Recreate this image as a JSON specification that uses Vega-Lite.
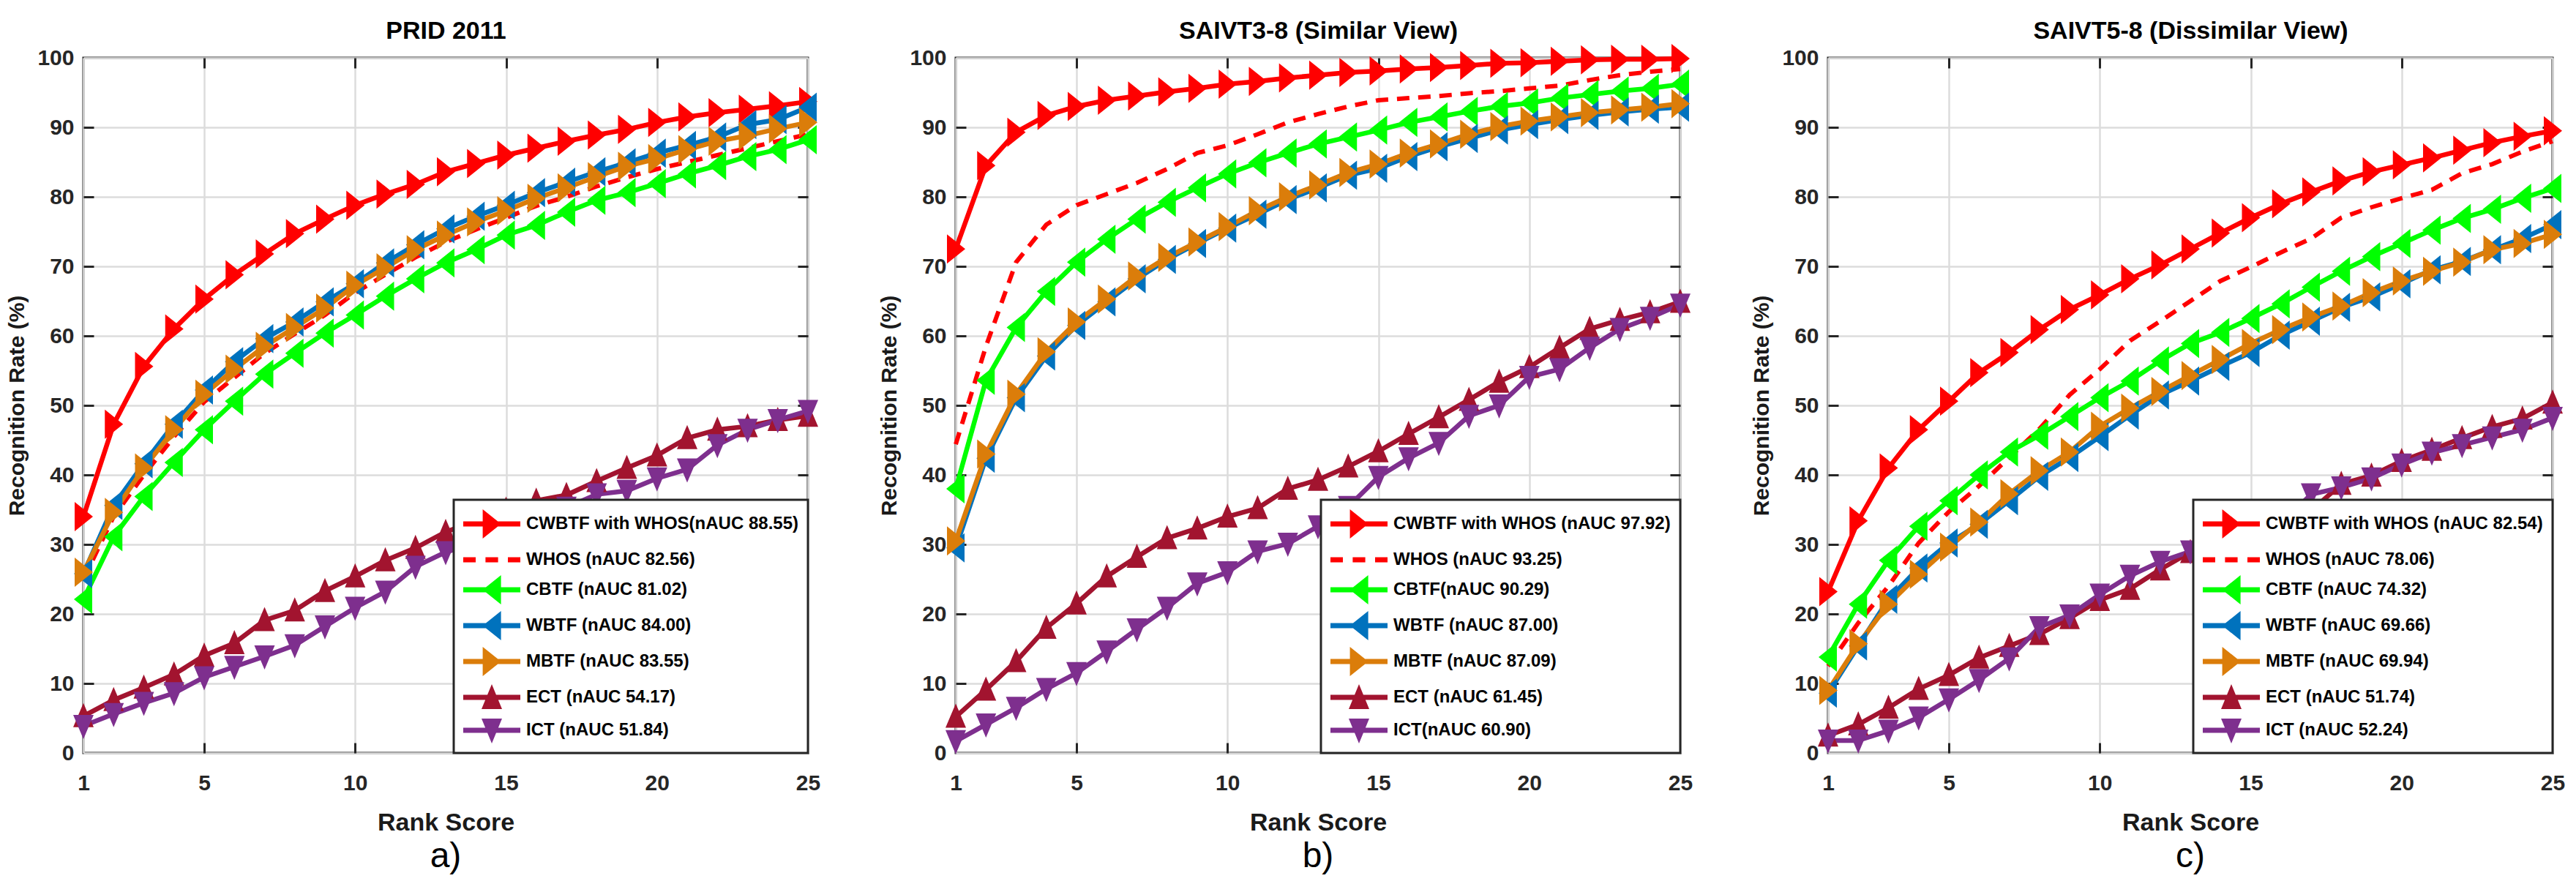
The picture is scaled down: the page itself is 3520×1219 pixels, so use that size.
{
  "$schema": "https://vega.github.io/schema/vega-lite/v6.json",
  "background": "white",
  "padding": {"left": 7, "top": 24, "right": 5, "bottom": 5},
  "spacing": 202,
  "bounds": "flush",
  "datasets": {
    "prid": [
      {"method":"CWBTF","rank":1,"rate":34.0},{"method":"CWBTF","rank":2,"rate":47.3},{"method":"CWBTF","rank":3,"rate":55.6},{"method":"CWBTF","rank":4,"rate":61.0},{"method":"CWBTF","rank":5,"rate":65.3},
      {"method":"CWBTF","rank":6,"rate":68.8},{"method":"CWBTF","rank":7,"rate":71.8},{"method":"CWBTF","rank":8,"rate":74.7},{"method":"CWBTF","rank":9,"rate":76.8},{"method":"CWBTF","rank":10,"rate":78.8},
      {"method":"CWBTF","rank":11,"rate":80.4},{"method":"CWBTF","rank":12,"rate":81.8},{"method":"CWBTF","rank":13,"rate":83.6},{"method":"CWBTF","rank":14,"rate":84.8},{"method":"CWBTF","rank":15,"rate":86.0},
      {"method":"CWBTF","rank":16,"rate":87.0},{"method":"CWBTF","rank":17,"rate":88.0},{"method":"CWBTF","rank":18,"rate":88.9},{"method":"CWBTF","rank":19,"rate":89.7},{"method":"CWBTF","rank":20,"rate":90.7},
      {"method":"CWBTF","rank":21,"rate":91.5},{"method":"CWBTF","rank":22,"rate":92.1},{"method":"CWBTF","rank":23,"rate":92.6},{"method":"CWBTF","rank":24,"rate":93.1},{"method":"CWBTF","rank":25,"rate":93.7},
      {"method":"WHOS","rank":1,"rate":25.0},{"method":"WHOS","rank":2,"rate":34.0},{"method":"WHOS","rank":3,"rate":40.0},{"method":"WHOS","rank":4,"rate":45.5},{"method":"WHOS","rank":5,"rate":50.5},
      {"method":"WHOS","rank":6,"rate":54.0},{"method":"WHOS","rank":7,"rate":57.5},{"method":"WHOS","rank":8,"rate":60.3},{"method":"WHOS","rank":9,"rate":63.0},{"method":"WHOS","rank":10,"rate":66.2},
      {"method":"WHOS","rank":11,"rate":68.8},{"method":"WHOS","rank":12,"rate":71.3},{"method":"WHOS","rank":13,"rate":73.5},{"method":"WHOS","rank":14,"rate":75.3},{"method":"WHOS","rank":15,"rate":77.0},
      {"method":"WHOS","rank":16,"rate":78.7},{"method":"WHOS","rank":17,"rate":80.0},{"method":"WHOS","rank":18,"rate":81.5},{"method":"WHOS","rank":19,"rate":82.8},{"method":"WHOS","rank":20,"rate":84.0},
      {"method":"WHOS","rank":21,"rate":85.0},{"method":"WHOS","rank":22,"rate":86.0},{"method":"WHOS","rank":23,"rate":87.0},{"method":"WHOS","rank":24,"rate":88.0},{"method":"WHOS","rank":25,"rate":89.0},
      {"method":"CBTF","rank":1,"rate":22.1},{"method":"CBTF","rank":2,"rate":31.1},{"method":"CBTF","rank":3,"rate":36.9},{"method":"CBTF","rank":4,"rate":41.8},{"method":"CBTF","rank":5,"rate":46.5},
      {"method":"CBTF","rank":6,"rate":50.6},{"method":"CBTF","rank":7,"rate":54.5},{"method":"CBTF","rank":8,"rate":57.5},{"method":"CBTF","rank":9,"rate":60.4},{"method":"CBTF","rank":10,"rate":63.0},
      {"method":"CBTF","rank":11,"rate":65.7},{"method":"CBTF","rank":12,"rate":68.2},{"method":"CBTF","rank":13,"rate":70.5},{"method":"CBTF","rank":14,"rate":72.4},{"method":"CBTF","rank":15,"rate":74.5},
      {"method":"CBTF","rank":16,"rate":75.9},{"method":"CBTF","rank":17,"rate":77.8},{"method":"CBTF","rank":18,"rate":79.5},{"method":"CBTF","rank":19,"rate":80.6},{"method":"CBTF","rank":20,"rate":81.9},
      {"method":"CBTF","rank":21,"rate":83.3},{"method":"CBTF","rank":22,"rate":84.5},{"method":"CBTF","rank":23,"rate":85.8},{"method":"CBTF","rank":24,"rate":86.8},{"method":"CBTF","rank":25,"rate":88.2},
      {"method":"WBTF","rank":1,"rate":25.8},{"method":"WBTF","rank":2,"rate":35.6},{"method":"WBTF","rank":3,"rate":41.6},{"method":"WBTF","rank":4,"rate":47.3},{"method":"WBTF","rank":5,"rate":52.2},
      {"method":"WBTF","rank":6,"rate":56.3},{"method":"WBTF","rank":7,"rate":59.6},{"method":"WBTF","rank":8,"rate":62.0},{"method":"WBTF","rank":9,"rate":64.9},{"method":"WBTF","rank":10,"rate":67.5},
      {"method":"WBTF","rank":11,"rate":70.5},{"method":"WBTF","rank":12,"rate":73.1},{"method":"WBTF","rank":13,"rate":75.4},{"method":"WBTF","rank":14,"rate":77.2},{"method":"WBTF","rank":15,"rate":78.8},
      {"method":"WBTF","rank":16,"rate":80.6},{"method":"WBTF","rank":17,"rate":82.1},{"method":"WBTF","rank":18,"rate":83.6},{"method":"WBTF","rank":19,"rate":84.9},{"method":"WBTF","rank":20,"rate":86.3},
      {"method":"WBTF","rank":21,"rate":87.4},{"method":"WBTF","rank":22,"rate":88.6},{"method":"WBTF","rank":23,"rate":90.4},{"method":"WBTF","rank":24,"rate":91.1},{"method":"WBTF","rank":25,"rate":92.9},
      {"method":"MBTF","rank":1,"rate":26.0},{"method":"MBTF","rank":2,"rate":34.6},{"method":"MBTF","rank":3,"rate":41.0},{"method":"MBTF","rank":4,"rate":46.5},{"method":"MBTF","rank":5,"rate":51.6},
      {"method":"MBTF","rank":6,"rate":55.2},{"method":"MBTF","rank":7,"rate":58.5},{"method":"MBTF","rank":8,"rate":61.2},{"method":"MBTF","rank":9,"rate":64.0},{"method":"MBTF","rank":10,"rate":67.3},
      {"method":"MBTF","rank":11,"rate":69.8},{"method":"MBTF","rank":12,"rate":72.4},{"method":"MBTF","rank":13,"rate":74.5},{"method":"MBTF","rank":14,"rate":76.4},{"method":"MBTF","rank":15,"rate":78.0},
      {"method":"MBTF","rank":16,"rate":79.8},{"method":"MBTF","rank":17,"rate":81.3},{"method":"MBTF","rank":18,"rate":82.9},{"method":"MBTF","rank":19,"rate":84.4},{"method":"MBTF","rank":20,"rate":85.5},
      {"method":"MBTF","rank":21,"rate":86.8},{"method":"MBTF","rank":22,"rate":88.0},{"method":"MBTF","rank":23,"rate":88.8},{"method":"MBTF","rank":24,"rate":89.8},{"method":"MBTF","rank":25,"rate":90.7},
      {"method":"ECT","rank":1,"rate":5.3},{"method":"ECT","rank":2,"rate":7.6},{"method":"ECT","rank":3,"rate":9.4},{"method":"ECT","rank":4,"rate":11.3},{"method":"ECT","rank":5,"rate":14.0},
      {"method":"ECT","rank":6,"rate":15.8},{"method":"ECT","rank":7,"rate":19.1},{"method":"ECT","rank":8,"rate":20.5},{"method":"ECT","rank":9,"rate":23.3},{"method":"ECT","rank":10,"rate":25.4},
      {"method":"ECT","rank":11,"rate":27.7},{"method":"ECT","rank":12,"rate":29.5},{"method":"ECT","rank":13,"rate":31.8},{"method":"ECT","rank":14,"rate":33.4},{"method":"ECT","rank":15,"rate":35.0},
      {"method":"ECT","rank":16,"rate":36.3},{"method":"ECT","rank":17,"rate":37.1},{"method":"ECT","rank":18,"rate":39.1},{"method":"ECT","rank":19,"rate":41.0},{"method":"ECT","rank":20,"rate":42.8},
      {"method":"ECT","rank":21,"rate":45.3},{"method":"ECT","rank":22,"rate":46.5},{"method":"ECT","rank":23,"rate":47.0},{"method":"ECT","rank":24,"rate":47.9},{"method":"ECT","rank":25,"rate":48.5},
      {"method":"ICT","rank":1,"rate":3.9},{"method":"ICT","rank":2,"rate":5.6},{"method":"ICT","rank":3,"rate":7.2},{"method":"ICT","rank":4,"rate":8.6},{"method":"ICT","rank":5,"rate":10.9},
      {"method":"ICT","rank":6,"rate":12.4},{"method":"ICT","rank":7,"rate":13.9},{"method":"ICT","rank":8,"rate":15.5},{"method":"ICT","rank":9,"rate":18.2},{"method":"ICT","rank":10,"rate":20.9},
      {"method":"ICT","rank":11,"rate":23.2},{"method":"ICT","rank":12,"rate":26.8},{"method":"ICT","rank":13,"rate":28.9},{"method":"ICT","rank":14,"rate":30.1},{"method":"ICT","rank":15,"rate":31.8},
      {"method":"ICT","rank":16,"rate":33.8},{"method":"ICT","rank":17,"rate":35.3},{"method":"ICT","rank":18,"rate":37.2},{"method":"ICT","rank":19,"rate":37.7},{"method":"ICT","rank":20,"rate":39.5},
      {"method":"ICT","rank":21,"rate":40.8},{"method":"ICT","rank":22,"rate":44.3},{"method":"ICT","rank":23,"rate":46.5},{"method":"ICT","rank":24,"rate":47.9},{"method":"ICT","rank":25,"rate":49.2}
    ],
    "similar": [
      {"method":"CWBTF","rank":1,"rate":72.5},{"method":"CWBTF","rank":2,"rate":84.5},{"method":"CWBTF","rank":3,"rate":89.3},{"method":"CWBTF","rank":4,"rate":91.7},{"method":"CWBTF","rank":5,"rate":93.0},
      {"method":"CWBTF","rank":6,"rate":93.9},{"method":"CWBTF","rank":7,"rate":94.5},{"method":"CWBTF","rank":8,"rate":95.1},{"method":"CWBTF","rank":9,"rate":95.6},{"method":"CWBTF","rank":10,"rate":96.2},
      {"method":"CWBTF","rank":11,"rate":96.6},{"method":"CWBTF","rank":12,"rate":97.1},{"method":"CWBTF","rank":13,"rate":97.5},{"method":"CWBTF","rank":14,"rate":97.9},{"method":"CWBTF","rank":15,"rate":98.1},
      {"method":"CWBTF","rank":16,"rate":98.4},{"method":"CWBTF","rank":17,"rate":98.6},{"method":"CWBTF","rank":18,"rate":98.9},{"method":"CWBTF","rank":19,"rate":99.2},{"method":"CWBTF","rank":20,"rate":99.3},
      {"method":"CWBTF","rank":21,"rate":99.5},{"method":"CWBTF","rank":22,"rate":99.7},{"method":"CWBTF","rank":23,"rate":99.8},{"method":"CWBTF","rank":24,"rate":99.8},{"method":"CWBTF","rank":25,"rate":99.9},
      {"method":"WHOS","rank":1,"rate":44.4},{"method":"WHOS","rank":2,"rate":58.5},{"method":"WHOS","rank":3,"rate":70.6},{"method":"WHOS","rank":4,"rate":76.0},{"method":"WHOS","rank":5,"rate":78.8},
      {"method":"WHOS","rank":6,"rate":80.4},{"method":"WHOS","rank":7,"rate":82.0},{"method":"WHOS","rank":8,"rate":84.0},{"method":"WHOS","rank":9,"rate":86.3},{"method":"WHOS","rank":10,"rate":87.4},
      {"method":"WHOS","rank":11,"rate":89.0},{"method":"WHOS","rank":12,"rate":90.7},{"method":"WHOS","rank":13,"rate":91.9},{"method":"WHOS","rank":14,"rate":93.0},{"method":"WHOS","rank":15,"rate":93.9},
      {"method":"WHOS","rank":16,"rate":94.2},{"method":"WHOS","rank":17,"rate":94.5},{"method":"WHOS","rank":18,"rate":94.9},{"method":"WHOS","rank":19,"rate":95.2},{"method":"WHOS","rank":20,"rate":95.6},
      {"method":"WHOS","rank":21,"rate":96.0},{"method":"WHOS","rank":22,"rate":96.8},{"method":"WHOS","rank":23,"rate":97.5},{"method":"WHOS","rank":24,"rate":98.0},{"method":"WHOS","rank":25,"rate":98.4},
      {"method":"CBTF","rank":1,"rate":38.0},{"method":"CBTF","rank":2,"rate":53.6},{"method":"CBTF","rank":3,"rate":61.2},{"method":"CBTF","rank":4,"rate":66.4},{"method":"CBTF","rank":5,"rate":70.6},
      {"method":"CBTF","rank":6,"rate":73.9},{"method":"CBTF","rank":7,"rate":76.8},{"method":"CBTF","rank":8,"rate":79.2},{"method":"CBTF","rank":9,"rate":81.3},{"method":"CBTF","rank":10,"rate":83.3},
      {"method":"CBTF","rank":11,"rate":84.9},{"method":"CBTF","rank":12,"rate":86.3},{"method":"CBTF","rank":13,"rate":87.6},{"method":"CBTF","rank":14,"rate":88.6},{"method":"CBTF","rank":15,"rate":89.6},
      {"method":"CBTF","rank":16,"rate":90.7},{"method":"CBTF","rank":17,"rate":91.5},{"method":"CBTF","rank":18,"rate":92.3},{"method":"CBTF","rank":19,"rate":93.0},{"method":"CBTF","rank":20,"rate":93.5},
      {"method":"CBTF","rank":21,"rate":94.2},{"method":"CBTF","rank":22,"rate":94.7},{"method":"CBTF","rank":23,"rate":95.2},{"method":"CBTF","rank":24,"rate":95.6},{"method":"CBTF","rank":25,"rate":96.2},
      {"method":"WBTF","rank":1,"rate":29.5},{"method":"WBTF","rank":2,"rate":42.4},{"method":"WBTF","rank":3,"rate":51.1},{"method":"WBTF","rank":4,"rate":57.1},{"method":"WBTF","rank":5,"rate":61.5},
      {"method":"WBTF","rank":6,"rate":64.9},{"method":"WBTF","rank":7,"rate":68.2},{"method":"WBTF","rank":8,"rate":71.0},{"method":"WBTF","rank":9,"rate":73.3},{"method":"WBTF","rank":10,"rate":75.5},
      {"method":"WBTF","rank":11,"rate":77.5},{"method":"WBTF","rank":12,"rate":79.6},{"method":"WBTF","rank":13,"rate":81.3},{"method":"WBTF","rank":14,"rate":83.1},{"method":"WBTF","rank":15,"rate":84.1},
      {"method":"WBTF","rank":16,"rate":85.8},{"method":"WBTF","rank":17,"rate":87.2},{"method":"WBTF","rank":18,"rate":88.4},{"method":"WBTF","rank":19,"rate":89.6},{"method":"WBTF","rank":20,"rate":90.4},
      {"method":"WBTF","rank":21,"rate":91.1},{"method":"WBTF","rank":22,"rate":91.7},{"method":"WBTF","rank":23,"rate":92.2},{"method":"WBTF","rank":24,"rate":92.6},{"method":"WBTF","rank":25,"rate":92.9},
      {"method":"MBTF","rank":1,"rate":30.5},{"method":"MBTF","rank":2,"rate":43.0},{"method":"MBTF","rank":3,"rate":51.6},{"method":"MBTF","rank":4,"rate":57.7},{"method":"MBTF","rank":5,"rate":62.0},
      {"method":"MBTF","rank":6,"rate":65.3},{"method":"MBTF","rank":7,"rate":68.6},{"method":"MBTF","rank":8,"rate":71.3},{"method":"MBTF","rank":9,"rate":73.5},{"method":"MBTF","rank":10,"rate":75.7},
      {"method":"MBTF","rank":11,"rate":78.0},{"method":"MBTF","rank":12,"rate":80.0},{"method":"MBTF","rank":13,"rate":81.7},{"method":"MBTF","rank":14,"rate":83.5},{"method":"MBTF","rank":15,"rate":84.7},
      {"method":"MBTF","rank":16,"rate":86.3},{"method":"MBTF","rank":17,"rate":87.6},{"method":"MBTF","rank":18,"rate":89.0},{"method":"MBTF","rank":19,"rate":90.1},{"method":"MBTF","rank":20,"rate":90.9},
      {"method":"MBTF","rank":21,"rate":91.5},{"method":"MBTF","rank":22,"rate":92.1},{"method":"MBTF","rank":23,"rate":92.5},{"method":"MBTF","rank":24,"rate":92.9},{"method":"MBTF","rank":25,"rate":93.4},
      {"method":"ECT","rank":1,"rate":5.2},{"method":"ECT","rank":2,"rate":9.1},{"method":"ECT","rank":3,"rate":13.2},{"method":"ECT","rank":4,"rate":18.0},{"method":"ECT","rank":5,"rate":21.5},
      {"method":"ECT","rank":6,"rate":25.4},{"method":"ECT","rank":7,"rate":28.2},{"method":"ECT","rank":8,"rate":30.9},{"method":"ECT","rank":9,"rate":32.3},{"method":"ECT","rank":10,"rate":34.0},
      {"method":"ECT","rank":11,"rate":35.2},{"method":"ECT","rank":12,"rate":38.0},{"method":"ECT","rank":13,"rate":39.3},{"method":"ECT","rank":14,"rate":41.2},{"method":"ECT","rank":15,"rate":43.4},
      {"method":"ECT","rank":16,"rate":45.9},{"method":"ECT","rank":17,"rate":48.3},{"method":"ECT","rank":18,"rate":50.8},{"method":"ECT","rank":19,"rate":53.4},{"method":"ECT","rank":20,"rate":55.5},
      {"method":"ECT","rank":21,"rate":58.3},{"method":"ECT","rank":22,"rate":61.0},{"method":"ECT","rank":23,"rate":62.3},{"method":"ECT","rank":24,"rate":63.4},{"method":"ECT","rank":25,"rate":64.9},
      {"method":"ICT","rank":1,"rate":1.7},{"method":"ICT","rank":2,"rate":4.1},{"method":"ICT","rank":3,"rate":6.5},{"method":"ICT","rank":4,"rate":9.2},{"method":"ICT","rank":5,"rate":11.5},
      {"method":"ICT","rank":6,"rate":14.6},{"method":"ICT","rank":7,"rate":17.8},{"method":"ICT","rank":8,"rate":20.9},{"method":"ICT","rank":9,"rate":24.4},{"method":"ICT","rank":10,"rate":26.0},
      {"method":"ICT","rank":11,"rate":29.0},{"method":"ICT","rank":12,"rate":30.1},{"method":"ICT","rank":13,"rate":32.6},{"method":"ICT","rank":14,"rate":35.4},{"method":"ICT","rank":15,"rate":39.7},
      {"method":"ICT","rank":16,"rate":42.4},{"method":"ICT","rank":17,"rate":44.6},{"method":"ICT","rank":18,"rate":48.5},{"method":"ICT","rank":19,"rate":50.0},{"method":"ICT","rank":20,"rate":54.1},
      {"method":"ICT","rank":21,"rate":55.2},{"method":"ICT","rank":22,"rate":58.3},{"method":"ICT","rank":23,"rate":61.0},{"method":"ICT","rank":24,"rate":62.6},{"method":"ICT","rank":25,"rate":64.5}
    ],
    "dissimilar": [
      {"method":"CWBTF","rank":1,"rate":23.2},{"method":"CWBTF","rank":2,"rate":33.4},{"method":"CWBTF","rank":3,"rate":41.0},{"method":"CWBTF","rank":4,"rate":46.5},{"method":"CWBTF","rank":5,"rate":50.6},
      {"method":"CWBTF","rank":6,"rate":54.7},{"method":"CWBTF","rank":7,"rate":57.6},{"method":"CWBTF","rank":8,"rate":60.9},{"method":"CWBTF","rank":9,"rate":63.8},{"method":"CWBTF","rank":10,"rate":65.9},
      {"method":"CWBTF","rank":11,"rate":68.2},{"method":"CWBTF","rank":12,"rate":70.2},{"method":"CWBTF","rank":13,"rate":72.5},{"method":"CWBTF","rank":14,"rate":74.8},{"method":"CWBTF","rank":15,"rate":77.0},
      {"method":"CWBTF","rank":16,"rate":79.0},{"method":"CWBTF","rank":17,"rate":80.7},{"method":"CWBTF","rank":18,"rate":82.3},{"method":"CWBTF","rank":19,"rate":83.6},{"method":"CWBTF","rank":20,"rate":84.6},
      {"method":"CWBTF","rank":21,"rate":85.6},{"method":"CWBTF","rank":22,"rate":86.7},{"method":"CWBTF","rank":23,"rate":87.8},{"method":"CWBTF","rank":24,"rate":88.7},{"method":"CWBTF","rank":25,"rate":89.5},
      {"method":"WHOS","rank":1,"rate":12.5},{"method":"WHOS","rank":2,"rate":18.7},{"method":"WHOS","rank":3,"rate":24.0},{"method":"WHOS","rank":4,"rate":30.2},{"method":"WHOS","rank":5,"rate":34.7},
      {"method":"WHOS","rank":6,"rate":38.4},{"method":"WHOS","rank":7,"rate":42.5},{"method":"WHOS","rank":8,"rate":46.6},{"method":"WHOS","rank":9,"rate":51.5},{"method":"WHOS","rank":10,"rate":55.2},
      {"method":"WHOS","rank":11,"rate":59.3},{"method":"WHOS","rank":12,"rate":62.1},{"method":"WHOS","rank":13,"rate":65.0},{"method":"WHOS","rank":14,"rate":67.9},{"method":"WHOS","rank":15,"rate":69.9},
      {"method":"WHOS","rank":16,"rate":72.0},{"method":"WHOS","rank":17,"rate":74.0},{"method":"WHOS","rank":18,"rate":77.0},{"method":"WHOS","rank":19,"rate":78.5},{"method":"WHOS","rank":20,"rate":79.8},
      {"method":"WHOS","rank":21,"rate":81.0},{"method":"WHOS","rank":22,"rate":83.4},{"method":"WHOS","rank":23,"rate":84.7},{"method":"WHOS","rank":24,"rate":86.5},{"method":"WHOS","rank":25,"rate":88.0},
      {"method":"CBTF","rank":1,"rate":13.8},{"method":"CBTF","rank":2,"rate":21.4},{"method":"CBTF","rank":3,"rate":27.7},{"method":"CBTF","rank":4,"rate":32.6},{"method":"CBTF","rank":5,"rate":36.3},
      {"method":"CBTF","rank":6,"rate":40.0},{"method":"CBTF","rank":7,"rate":43.3},{"method":"CBTF","rank":8,"rate":45.7},{"method":"CBTF","rank":9,"rate":48.4},{"method":"CBTF","rank":10,"rate":51.1},
      {"method":"CBTF","rank":11,"rate":53.5},{"method":"CBTF","rank":12,"rate":56.4},{"method":"CBTF","rank":13,"rate":58.9},{"method":"CBTF","rank":14,"rate":60.5},{"method":"CBTF","rank":15,"rate":62.5},
      {"method":"CBTF","rank":16,"rate":64.6},{"method":"CBTF","rank":17,"rate":67.0},{"method":"CBTF","rank":18,"rate":69.3},{"method":"CBTF","rank":19,"rate":71.4},{"method":"CBTF","rank":20,"rate":73.3},
      {"method":"CBTF","rank":21,"rate":75.2},{"method":"CBTF","rank":22,"rate":76.9},{"method":"CBTF","rank":23,"rate":78.2},{"method":"CBTF","rank":24,"rate":79.8},{"method":"CBTF","rank":25,"rate":81.2},
      {"method":"WBTF","rank":1,"rate":8.6},{"method":"WBTF","rank":2,"rate":15.4},{"method":"WBTF","rank":3,"rate":22.1},{"method":"WBTF","rank":4,"rate":26.6},{"method":"WBTF","rank":5,"rate":30.2},
      {"method":"WBTF","rank":6,"rate":32.9},{"method":"WBTF","rank":7,"rate":36.3},{"method":"WBTF","rank":8,"rate":39.8},{"method":"WBTF","rank":9,"rate":42.5},{"method":"WBTF","rank":10,"rate":45.5},
      {"method":"WBTF","rank":11,"rate":48.6},{"method":"WBTF","rank":12,"rate":51.5},{"method":"WBTF","rank":13,"rate":53.5},{"method":"WBTF","rank":14,"rate":55.6},{"method":"WBTF","rank":15,"rate":57.6},
      {"method":"WBTF","rank":16,"rate":60.1},{"method":"WBTF","rank":17,"rate":62.1},{"method":"WBTF","rank":18,"rate":64.1},{"method":"WBTF","rank":19,"rate":65.6},{"method":"WBTF","rank":20,"rate":67.5},
      {"method":"WBTF","rank":21,"rate":69.5},{"method":"WBTF","rank":22,"rate":70.7},{"method":"WBTF","rank":23,"rate":72.4},{"method":"WBTF","rank":24,"rate":74.0},{"method":"WBTF","rank":25,"rate":76.0},
      {"method":"MBTF","rank":1,"rate":9.0},{"method":"MBTF","rank":2,"rate":15.7},{"method":"MBTF","rank":3,"rate":21.4},{"method":"MBTF","rank":4,"rate":25.7},{"method":"MBTF","rank":5,"rate":29.6},
      {"method":"MBTF","rank":6,"rate":33.2},{"method":"MBTF","rank":7,"rate":37.3},{"method":"MBTF","rank":8,"rate":40.6},{"method":"MBTF","rank":9,"rate":43.3},{"method":"MBTF","rank":10,"rate":47.0},
      {"method":"MBTF","rank":11,"rate":49.6},{"method":"MBTF","rank":12,"rate":52.0},{"method":"MBTF","rank":13,"rate":54.3},{"method":"MBTF","rank":14,"rate":56.6},{"method":"MBTF","rank":15,"rate":58.9},
      {"method":"MBTF","rank":16,"rate":60.9},{"method":"MBTF","rank":17,"rate":62.7},{"method":"MBTF","rank":18,"rate":64.3},{"method":"MBTF","rank":19,"rate":66.2},{"method":"MBTF","rank":20,"rate":67.9},
      {"method":"MBTF","rank":21,"rate":69.3},{"method":"MBTF","rank":22,"rate":70.6},{"method":"MBTF","rank":23,"rate":72.4},{"method":"MBTF","rank":24,"rate":73.3},{"method":"MBTF","rank":25,"rate":74.6},
      {"method":"ECT","rank":1,"rate":2.5},{"method":"ECT","rank":2,"rate":4.1},{"method":"ECT","rank":3,"rate":6.5},{"method":"ECT","rank":4,"rate":9.2},{"method":"ECT","rank":5,"rate":11.2},
      {"method":"ECT","rank":6,"rate":13.7},{"method":"ECT","rank":7,"rate":15.4},{"method":"ECT","rank":8,"rate":17.1},{"method":"ECT","rank":9,"rate":19.4},{"method":"ECT","rank":10,"rate":22.0},
      {"method":"ECT","rank":11,"rate":23.6},{"method":"ECT","rank":12,"rate":26.4},{"method":"ECT","rank":13,"rate":28.9},{"method":"ECT","rank":14,"rate":30.3},{"method":"ECT","rank":15,"rate":31.3},
      {"method":"ECT","rank":16,"rate":32.9},{"method":"ECT","rank":17,"rate":34.8},{"method":"ECT","rank":18,"rate":38.7},{"method":"ECT","rank":19,"rate":39.9},{"method":"ECT","rank":20,"rate":42.0},
      {"method":"ECT","rank":21,"rate":43.6},{"method":"ECT","rank":22,"rate":45.3},{"method":"ECT","rank":23,"rate":46.9},{"method":"ECT","rank":24,"rate":48.1},{"method":"ECT","rank":25,"rate":50.4},
      {"method":"ICT","rank":1,"rate":1.8},{"method":"ICT","rank":2,"rate":1.8},{"method":"ICT","rank":3,"rate":3.2},{"method":"ICT","rank":4,"rate":5.1},{"method":"ICT","rank":5,"rate":7.7},
      {"method":"ICT","rank":6,"rate":10.5},{"method":"ICT","rank":7,"rate":13.6},{"method":"ICT","rank":8,"rate":18.1},{"method":"ICT","rank":9,"rate":19.8},{"method":"ICT","rank":10,"rate":22.8},
      {"method":"ICT","rank":11,"rate":25.5},{"method":"ICT","rank":12,"rate":27.5},{"method":"ICT","rank":13,"rate":29.0},{"method":"ICT","rank":14,"rate":30.2},{"method":"ICT","rank":15,"rate":31.1},
      {"method":"ICT","rank":16,"rate":33.0},{"method":"ICT","rank":17,"rate":37.2},{"method":"ICT","rank":18,"rate":38.2},{"method":"ICT","rank":19,"rate":39.5},{"method":"ICT","rank":20,"rate":41.5},
      {"method":"ICT","rank":21,"rate":43.2},{"method":"ICT","rank":22,"rate":44.3},{"method":"ICT","rank":23,"rate":45.4},{"method":"ICT","rank":24,"rate":46.5},{"method":"ICT","rank":25,"rate":48.2}
    ]
  },
  "hconcat": [
    {
      "width": 990,
      "height": 950,
      "data": {"name": "prid"},
      "title": {"text": "a)", "orient": "bottom", "anchor": "middle", "font": "Liberation Sans", "fontSize": 48, "fontWeight": "normal", "color": "#000000", "offset": 6},
      "encoding": {
        "x": {"field": "rank", "type": "quantitative", "scale": {"domain": [1, 25], "nice": false, "zero": false}, "axis": null},
        "y": {"field": "rate", "type": "quantitative", "scale": {"domain": [0, 100], "nice": false}, "axis": null},
        "color": {"field": "method", "type": "nominal", "scale": {"domain": ["CBTF", "CWBTF", "ECT", "ICT", "MBTF", "WBTF", "WHOS"], "range": ["#00FF00", "#FF0000", "#A2142F", "#7E2F8E", "#DB7D0A", "#0072BD", "#FF0000"]}, "legend": null}
      },
      "layer": [
        {
          "transform": [{"filter": "datum.method == 'WHOS'"}],
          "mark": {"type": "line", "strokeWidth": 6, "strokeDash": [17, 12]},
          "encoding": {
            "x": {"field": "rank", "type": "quantitative", "axis": {"orient": "bottom", "values": [1, 5, 10, 15, 20, 25], "ticks": false, "title": "Rank Score", "titleFontSize": 34, "titlePadding": 22, "labelPadding": 26, "grid": true}},
            "y": {"field": "rate", "type": "quantitative", "axis": {"orient": "left", "values": [0, 10, 20, 30, 40, 50, 60, 70, 80, 90, 100], "ticks": false, "title": "Recognition Rate (%)", "titleFontSize": 30, "titlePadding": 12, "labelPadding": 13, "grid": true}}
          }
        },
        {
          "transform": [{"filter": "datum.method != 'WHOS'"}],
          "mark": {"type": "line", "strokeWidth": 6.5}
        },
        {
          "transform": [{"filter": "datum.method == 'CWBTF'"}],
          "mark": {"type": "point", "shape": "M-0.6,-1L0.65,0L-0.6,1Z", "filled": true, "opacity": 1, "size": 1600},
          "encoding": {
            "x": {"field": "rank", "type": "quantitative", "axis": {"orient": "top", "offset": -14, "values": [5, 10, 15, 20], "labels": false, "grid": false, "title": "PRID 2011", "titleFontSize": 34, "titleColor": "#000000", "titlePadding": 18}},
            "y": {"field": "rate", "type": "quantitative", "axis": {"orient": "right", "offset": -14, "values": [10, 20, 30, 40, 50, 60, 70, 80, 90], "labels": false, "grid": false, "title": null}}
          }
        },
        {
          "transform": [{"filter": "datum.method == 'CBTF' || datum.method == 'WBTF'"}],
          "mark": {"type": "point", "shape": "M0.6,-1L-0.65,0L0.6,1Z", "filled": true, "opacity": 1, "size": 1600},
          "encoding": {
            "x": {"field": "rank", "type": "quantitative", "axis": {"orient": "bottom", "offset": -14, "values": [5, 10, 15, 20], "labels": false, "grid": false, "title": null}},
            "y": {"field": "rate", "type": "quantitative", "axis": {"orient": "left", "offset": -14, "values": [10, 20, 30, 40, 50, 60, 70, 80, 90], "labels": false, "grid": false, "title": null}}
          }
        },
        {
          "transform": [{"filter": "datum.method == 'MBTF'"}],
          "mark": {"type": "point", "shape": "M-0.6,-1L0.65,0L-0.6,1Z", "filled": true, "opacity": 1, "size": 1600}
        },
        {
          "transform": [{"filter": "datum.method == 'ECT'"}],
          "mark": {"type": "point", "shape": "M-0.7,0.75L0,-0.9L0.7,0.75Z", "filled": true, "opacity": 1, "size": 1600}
        },
        {
          "transform": [{"filter": "datum.method == 'ICT'"}],
          "mark": {"type": "point", "shape": "M-0.7,-0.75L0.7,-0.75L0,0.9Z", "filled": true, "opacity": 1, "size": 1600}
        },
        {
          "transform": [{"filter": "datum.rank > 100"}],
          "mark": {"type": "point", "filled": true, "opacity": 1, "size": 1600},
          "encoding": {
            "fill": {"field": "method", "type": "nominal", "scale": {"domain": ["CWBTF", "WHOS", "CBTF", "WBTF", "MBTF", "ECT", "ICT"], "range": ["#FF0000", "#FF0000", "#00FF00", "#0072BD", "#DB7D0A", "#A2142F", "#7E2F8E"]},
              "legend": {"title": null, "encode": {"legend": {"update": {"strokeWidth": {"value": 3}}}},
                "labelExpr": "datum.value == 'CWBTF' ? 'CWBTF with WHOS(nAUC 88.55)' : datum.value == 'WHOS' ? 'WHOS (nAUC 82.56)' : datum.value == 'CBTF' ? 'CBTF (nAUC 81.02)' : datum.value == 'WBTF' ? 'WBTF (nAUC 84.00)' : datum.value == 'MBTF' ? 'MBTF (nAUC 83.55)' : datum.value == 'ECT' ? 'ECT (nAUC 54.17)' : 'ICT (nAUC 51.84)'"}},
            "shape": {"field": "method", "type": "nominal", "scale": {"domain": ["CWBTF", "WHOS", "CBTF", "WBTF", "MBTF", "ECT", "ICT"], "range": ["M-1,-0.18H2.9V0.18H-1Z M0.33,-1L1.58,0L0.33,1Z", "M-1,-0.18H-0.15V0.18H-1Z M0.52,-0.18H1.38V0.18H0.52Z M2.05,-0.18H2.9V0.18H2.05Z", "M-1,-0.18H2.9V0.18H-1Z M1.58,-1L1.58,1L0.33,0Z", "M-1,-0.18H2.9V0.18H-1Z M1.58,-1L1.58,1L0.33,0Z", "M-1,-0.18H2.9V0.18H-1Z M0.33,-1L1.58,0L0.33,1Z", "M-1,-0.18H2.9V0.18H-1Z M0.25,0.8L0.95,-0.9L1.65,0.8Z", "M-1,-0.18H2.9V0.18H-1Z M0.25,-0.8L1.65,-0.8L0.95,0.9Z"]},
              "legend": {"title": null, "encode": {"legend": {"update": {"strokeWidth": {"value": 3}}}},
                "labelExpr": "datum.value == 'CWBTF' ? 'CWBTF with WHOS(nAUC 88.55)' : datum.value == 'WHOS' ? 'WHOS (nAUC 82.56)' : datum.value == 'CBTF' ? 'CBTF (nAUC 81.02)' : datum.value == 'WBTF' ? 'WBTF (nAUC 84.00)' : datum.value == 'MBTF' ? 'MBTF (nAUC 83.55)' : datum.value == 'ECT' ? 'ECT (nAUC 54.17)' : 'ICT (nAUC 51.84)'"}}
          }
        }
      ],
      "resolve": {"axis": {"x": "independent", "y": "independent"}}
    },
    {
      "width": 990,
      "height": 950,
      "data": {"name": "similar"},
      "title": {"text": "b)", "orient": "bottom", "anchor": "middle", "font": "Liberation Sans", "fontSize": 48, "fontWeight": "normal", "color": "#000000", "offset": 6},
      "encoding": {
        "x": {"field": "rank", "type": "quantitative", "scale": {"domain": [1, 25], "nice": false, "zero": false}, "axis": null},
        "y": {"field": "rate", "type": "quantitative", "scale": {"domain": [0, 100], "nice": false}, "axis": null},
        "color": {"field": "method", "type": "nominal", "scale": {"domain": ["CBTF", "CWBTF", "ECT", "ICT", "MBTF", "WBTF", "WHOS"], "range": ["#00FF00", "#FF0000", "#A2142F", "#7E2F8E", "#DB7D0A", "#0072BD", "#FF0000"]}, "legend": null}
      },
      "layer": [
        {
          "transform": [{"filter": "datum.method == 'WHOS'"}],
          "mark": {"type": "line", "strokeWidth": 6, "strokeDash": [17, 12]},
          "encoding": {
            "x": {"field": "rank", "type": "quantitative", "axis": {"orient": "bottom", "values": [1, 5, 10, 15, 20, 25], "ticks": false, "title": "Rank Score", "titleFontSize": 34, "titlePadding": 22, "labelPadding": 26, "grid": true}},
            "y": {"field": "rate", "type": "quantitative", "axis": {"orient": "left", "values": [0, 10, 20, 30, 40, 50, 60, 70, 80, 90, 100], "ticks": false, "title": "Recognition Rate (%)", "titleFontSize": 30, "titlePadding": 12, "labelPadding": 13, "grid": true}}
          }
        },
        {
          "transform": [{"filter": "datum.method != 'WHOS'"}],
          "mark": {"type": "line", "strokeWidth": 6.5}
        },
        {
          "transform": [{"filter": "datum.method == 'CWBTF'"}],
          "mark": {"type": "point", "shape": "M-0.6,-1L0.65,0L-0.6,1Z", "filled": true, "opacity": 1, "size": 1600},
          "encoding": {
            "x": {"field": "rank", "type": "quantitative", "axis": {"orient": "top", "offset": -14, "values": [5, 10, 15, 20], "labels": false, "grid": false, "title": "SAIVT3-8 (Similar View)", "titleFontSize": 34, "titleColor": "#000000", "titlePadding": 18}},
            "y": {"field": "rate", "type": "quantitative", "axis": {"orient": "right", "offset": -14, "values": [10, 20, 30, 40, 50, 60, 70, 80, 90], "labels": false, "grid": false, "title": null}}
          }
        },
        {
          "transform": [{"filter": "datum.method == 'CBTF' || datum.method == 'WBTF'"}],
          "mark": {"type": "point", "shape": "M0.6,-1L-0.65,0L0.6,1Z", "filled": true, "opacity": 1, "size": 1600},
          "encoding": {
            "x": {"field": "rank", "type": "quantitative", "axis": {"orient": "bottom", "offset": -14, "values": [5, 10, 15, 20], "labels": false, "grid": false, "title": null}},
            "y": {"field": "rate", "type": "quantitative", "axis": {"orient": "left", "offset": -14, "values": [10, 20, 30, 40, 50, 60, 70, 80, 90], "labels": false, "grid": false, "title": null}}
          }
        },
        {
          "transform": [{"filter": "datum.method == 'MBTF'"}],
          "mark": {"type": "point", "shape": "M-0.6,-1L0.65,0L-0.6,1Z", "filled": true, "opacity": 1, "size": 1600}
        },
        {
          "transform": [{"filter": "datum.method == 'ECT'"}],
          "mark": {"type": "point", "shape": "M-0.7,0.75L0,-0.9L0.7,0.75Z", "filled": true, "opacity": 1, "size": 1600}
        },
        {
          "transform": [{"filter": "datum.method == 'ICT'"}],
          "mark": {"type": "point", "shape": "M-0.7,-0.75L0.7,-0.75L0,0.9Z", "filled": true, "opacity": 1, "size": 1600}
        },
        {
          "transform": [{"filter": "datum.rank > 100"}],
          "mark": {"type": "point", "filled": true, "opacity": 1, "size": 1600},
          "encoding": {
            "fill": {"field": "method", "type": "nominal", "scale": {"domain": ["CWBTF", "WHOS", "CBTF", "WBTF", "MBTF", "ECT", "ICT"], "range": ["#FF0000", "#FF0000", "#00FF00", "#0072BD", "#DB7D0A", "#A2142F", "#7E2F8E"]},
              "legend": {"title": null, "encode": {"legend": {"update": {"strokeWidth": {"value": 3}}}},
                "labelExpr": "datum.value == 'CWBTF' ? 'CWBTF with WHOS (nAUC 97.92)' : datum.value == 'WHOS' ? 'WHOS (nAUC 93.25)' : datum.value == 'CBTF' ? 'CBTF(nAUC 90.29)' : datum.value == 'WBTF' ? 'WBTF (nAUC 87.00)' : datum.value == 'MBTF' ? 'MBTF (nAUC 87.09)' : datum.value == 'ECT' ? 'ECT (nAUC 61.45)' : 'ICT(nAUC 60.90)'"}},
            "shape": {"field": "method", "type": "nominal", "scale": {"domain": ["CWBTF", "WHOS", "CBTF", "WBTF", "MBTF", "ECT", "ICT"], "range": ["M-1,-0.18H2.9V0.18H-1Z M0.33,-1L1.58,0L0.33,1Z", "M-1,-0.18H-0.15V0.18H-1Z M0.52,-0.18H1.38V0.18H0.52Z M2.05,-0.18H2.9V0.18H2.05Z", "M-1,-0.18H2.9V0.18H-1Z M1.58,-1L1.58,1L0.33,0Z", "M-1,-0.18H2.9V0.18H-1Z M1.58,-1L1.58,1L0.33,0Z", "M-1,-0.18H2.9V0.18H-1Z M0.33,-1L1.58,0L0.33,1Z", "M-1,-0.18H2.9V0.18H-1Z M0.25,0.8L0.95,-0.9L1.65,0.8Z", "M-1,-0.18H2.9V0.18H-1Z M0.25,-0.8L1.65,-0.8L0.95,0.9Z"]},
              "legend": {"title": null, "encode": {"legend": {"update": {"strokeWidth": {"value": 3}}}},
                "labelExpr": "datum.value == 'CWBTF' ? 'CWBTF with WHOS (nAUC 97.92)' : datum.value == 'WHOS' ? 'WHOS (nAUC 93.25)' : datum.value == 'CBTF' ? 'CBTF(nAUC 90.29)' : datum.value == 'WBTF' ? 'WBTF (nAUC 87.00)' : datum.value == 'MBTF' ? 'MBTF (nAUC 87.09)' : datum.value == 'ECT' ? 'ECT (nAUC 61.45)' : 'ICT(nAUC 60.90)'"}}
          }
        }
      ],
      "resolve": {"axis": {"x": "independent", "y": "independent"}}
    },
    {
      "width": 990,
      "height": 950,
      "data": {"name": "dissimilar"},
      "title": {"text": "c)", "orient": "bottom", "anchor": "middle", "font": "Liberation Sans", "fontSize": 48, "fontWeight": "normal", "color": "#000000", "offset": 6},
      "encoding": {
        "x": {"field": "rank", "type": "quantitative", "scale": {"domain": [1, 25], "nice": false, "zero": false}, "axis": null},
        "y": {"field": "rate", "type": "quantitative", "scale": {"domain": [0, 100], "nice": false}, "axis": null},
        "color": {"field": "method", "type": "nominal", "scale": {"domain": ["CBTF", "CWBTF", "ECT", "ICT", "MBTF", "WBTF", "WHOS"], "range": ["#00FF00", "#FF0000", "#A2142F", "#7E2F8E", "#DB7D0A", "#0072BD", "#FF0000"]}, "legend": null}
      },
      "layer": [
        {
          "transform": [{"filter": "datum.method == 'WHOS'"}],
          "mark": {"type": "line", "strokeWidth": 6, "strokeDash": [17, 12]},
          "encoding": {
            "x": {"field": "rank", "type": "quantitative", "axis": {"orient": "bottom", "values": [1, 5, 10, 15, 20, 25], "ticks": false, "title": "Rank Score", "titleFontSize": 34, "titlePadding": 22, "labelPadding": 26, "grid": true}},
            "y": {"field": "rate", "type": "quantitative", "axis": {"orient": "left", "values": [0, 10, 20, 30, 40, 50, 60, 70, 80, 90, 100], "ticks": false, "title": "Recognition Rate (%)", "titleFontSize": 30, "titlePadding": 12, "labelPadding": 13, "grid": true}}
          }
        },
        {
          "transform": [{"filter": "datum.method != 'WHOS'"}],
          "mark": {"type": "line", "strokeWidth": 6.5}
        },
        {
          "transform": [{"filter": "datum.method == 'CWBTF'"}],
          "mark": {"type": "point", "shape": "M-0.6,-1L0.65,0L-0.6,1Z", "filled": true, "opacity": 1, "size": 1600},
          "encoding": {
            "x": {"field": "rank", "type": "quantitative", "axis": {"orient": "top", "offset": -14, "values": [5, 10, 15, 20], "labels": false, "grid": false, "title": "SAIVT5-8 (Dissimilar View)", "titleFontSize": 34, "titleColor": "#000000", "titlePadding": 18}},
            "y": {"field": "rate", "type": "quantitative", "axis": {"orient": "right", "offset": -14, "values": [10, 20, 30, 40, 50, 60, 70, 80, 90], "labels": false, "grid": false, "title": null}}
          }
        },
        {
          "transform": [{"filter": "datum.method == 'CBTF' || datum.method == 'WBTF'"}],
          "mark": {"type": "point", "shape": "M0.6,-1L-0.65,0L0.6,1Z", "filled": true, "opacity": 1, "size": 1600},
          "encoding": {
            "x": {"field": "rank", "type": "quantitative", "axis": {"orient": "bottom", "offset": -14, "values": [5, 10, 15, 20], "labels": false, "grid": false, "title": null}},
            "y": {"field": "rate", "type": "quantitative", "axis": {"orient": "left", "offset": -14, "values": [10, 20, 30, 40, 50, 60, 70, 80, 90], "labels": false, "grid": false, "title": null}}
          }
        },
        {
          "transform": [{"filter": "datum.method == 'MBTF'"}],
          "mark": {"type": "point", "shape": "M-0.6,-1L0.65,0L-0.6,1Z", "filled": true, "opacity": 1, "size": 1600}
        },
        {
          "transform": [{"filter": "datum.method == 'ECT'"}],
          "mark": {"type": "point", "shape": "M-0.7,0.75L0,-0.9L0.7,0.75Z", "filled": true, "opacity": 1, "size": 1600}
        },
        {
          "transform": [{"filter": "datum.method == 'ICT'"}],
          "mark": {"type": "point", "shape": "M-0.7,-0.75L0.7,-0.75L0,0.9Z", "filled": true, "opacity": 1, "size": 1600}
        },
        {
          "transform": [{"filter": "datum.rank > 100"}],
          "mark": {"type": "point", "filled": true, "opacity": 1, "size": 1600},
          "encoding": {
            "fill": {"field": "method", "type": "nominal", "scale": {"domain": ["CWBTF", "WHOS", "CBTF", "WBTF", "MBTF", "ECT", "ICT"], "range": ["#FF0000", "#FF0000", "#00FF00", "#0072BD", "#DB7D0A", "#A2142F", "#7E2F8E"]},
              "legend": {"title": null, "encode": {"legend": {"update": {"strokeWidth": {"value": 3}}}},
                "labelExpr": "datum.value == 'CWBTF' ? 'CWBTF with WHOS (nAUC 82.54)' : datum.value == 'WHOS' ? 'WHOS (nAUC 78.06)' : datum.value == 'CBTF' ? 'CBTF (nAUC 74.32)' : datum.value == 'WBTF' ? 'WBTF (nAUC 69.66)' : datum.value == 'MBTF' ? 'MBTF (nAUC 69.94)' : datum.value == 'ECT' ? 'ECT (nAUC 51.74)' : 'ICT (nAUC 52.24)'"}},
            "shape": {"field": "method", "type": "nominal", "scale": {"domain": ["CWBTF", "WHOS", "CBTF", "WBTF", "MBTF", "ECT", "ICT"], "range": ["M-1,-0.18H2.9V0.18H-1Z M0.33,-1L1.58,0L0.33,1Z", "M-1,-0.18H-0.15V0.18H-1Z M0.52,-0.18H1.38V0.18H0.52Z M2.05,-0.18H2.9V0.18H2.05Z", "M-1,-0.18H2.9V0.18H-1Z M1.58,-1L1.58,1L0.33,0Z", "M-1,-0.18H2.9V0.18H-1Z M1.58,-1L1.58,1L0.33,0Z", "M-1,-0.18H2.9V0.18H-1Z M0.33,-1L1.58,0L0.33,1Z", "M-1,-0.18H2.9V0.18H-1Z M0.25,0.8L0.95,-0.9L1.65,0.8Z", "M-1,-0.18H2.9V0.18H-1Z M0.25,-0.8L1.65,-0.8L0.95,0.9Z"]},
              "legend": {"title": null, "encode": {"legend": {"update": {"strokeWidth": {"value": 3}}}},
                "labelExpr": "datum.value == 'CWBTF' ? 'CWBTF with WHOS (nAUC 82.54)' : datum.value == 'WHOS' ? 'WHOS (nAUC 78.06)' : datum.value == 'CBTF' ? 'CBTF (nAUC 74.32)' : datum.value == 'WBTF' ? 'WBTF (nAUC 69.66)' : datum.value == 'MBTF' ? 'MBTF (nAUC 69.94)' : datum.value == 'ECT' ? 'ECT (nAUC 51.74)' : 'ICT (nAUC 52.24)'"}}
          }
        }
      ],
      "resolve": {"axis": {"x": "independent", "y": "independent"}}
    }
  ],
  "resolve": {"scale": {"color": "independent", "fill": "independent", "shape": "independent"}, "legend": {"fill": "independent", "shape": "independent"}},
  "config": {
    "view": {"stroke": "#262626", "strokeWidth": 3},
    "axis": {"labelFont": "Liberation Sans", "labelFontSize": 30, "labelFontWeight": "bold", "labelColor": "#262626", "labelFlush": false, "titleFont": "Liberation Sans", "titleFontWeight": "bold", "titleColor": "#1a1a1a", "tickSize": 14, "tickWidth": 3, "tickColor": "#262626", "domain": false, "gridColor": "#dcdcdc", "gridWidth": 2.5},
    "legend": {"orient": "bottom-right", "offset": 0, "padding": 13, "fillColor": "white", "strokeColor": "#262626", "labelFont": "Liberation Sans", "labelFontSize": 24, "labelFontWeight": "bold", "labelColor": "#000000", "labelOffset": 46, "labelLimit": 0, "symbolSize": 1600, "symbolStrokeWidth": 0, "symbolOpacity": 1, "rowPadding": 9}
  }
}
